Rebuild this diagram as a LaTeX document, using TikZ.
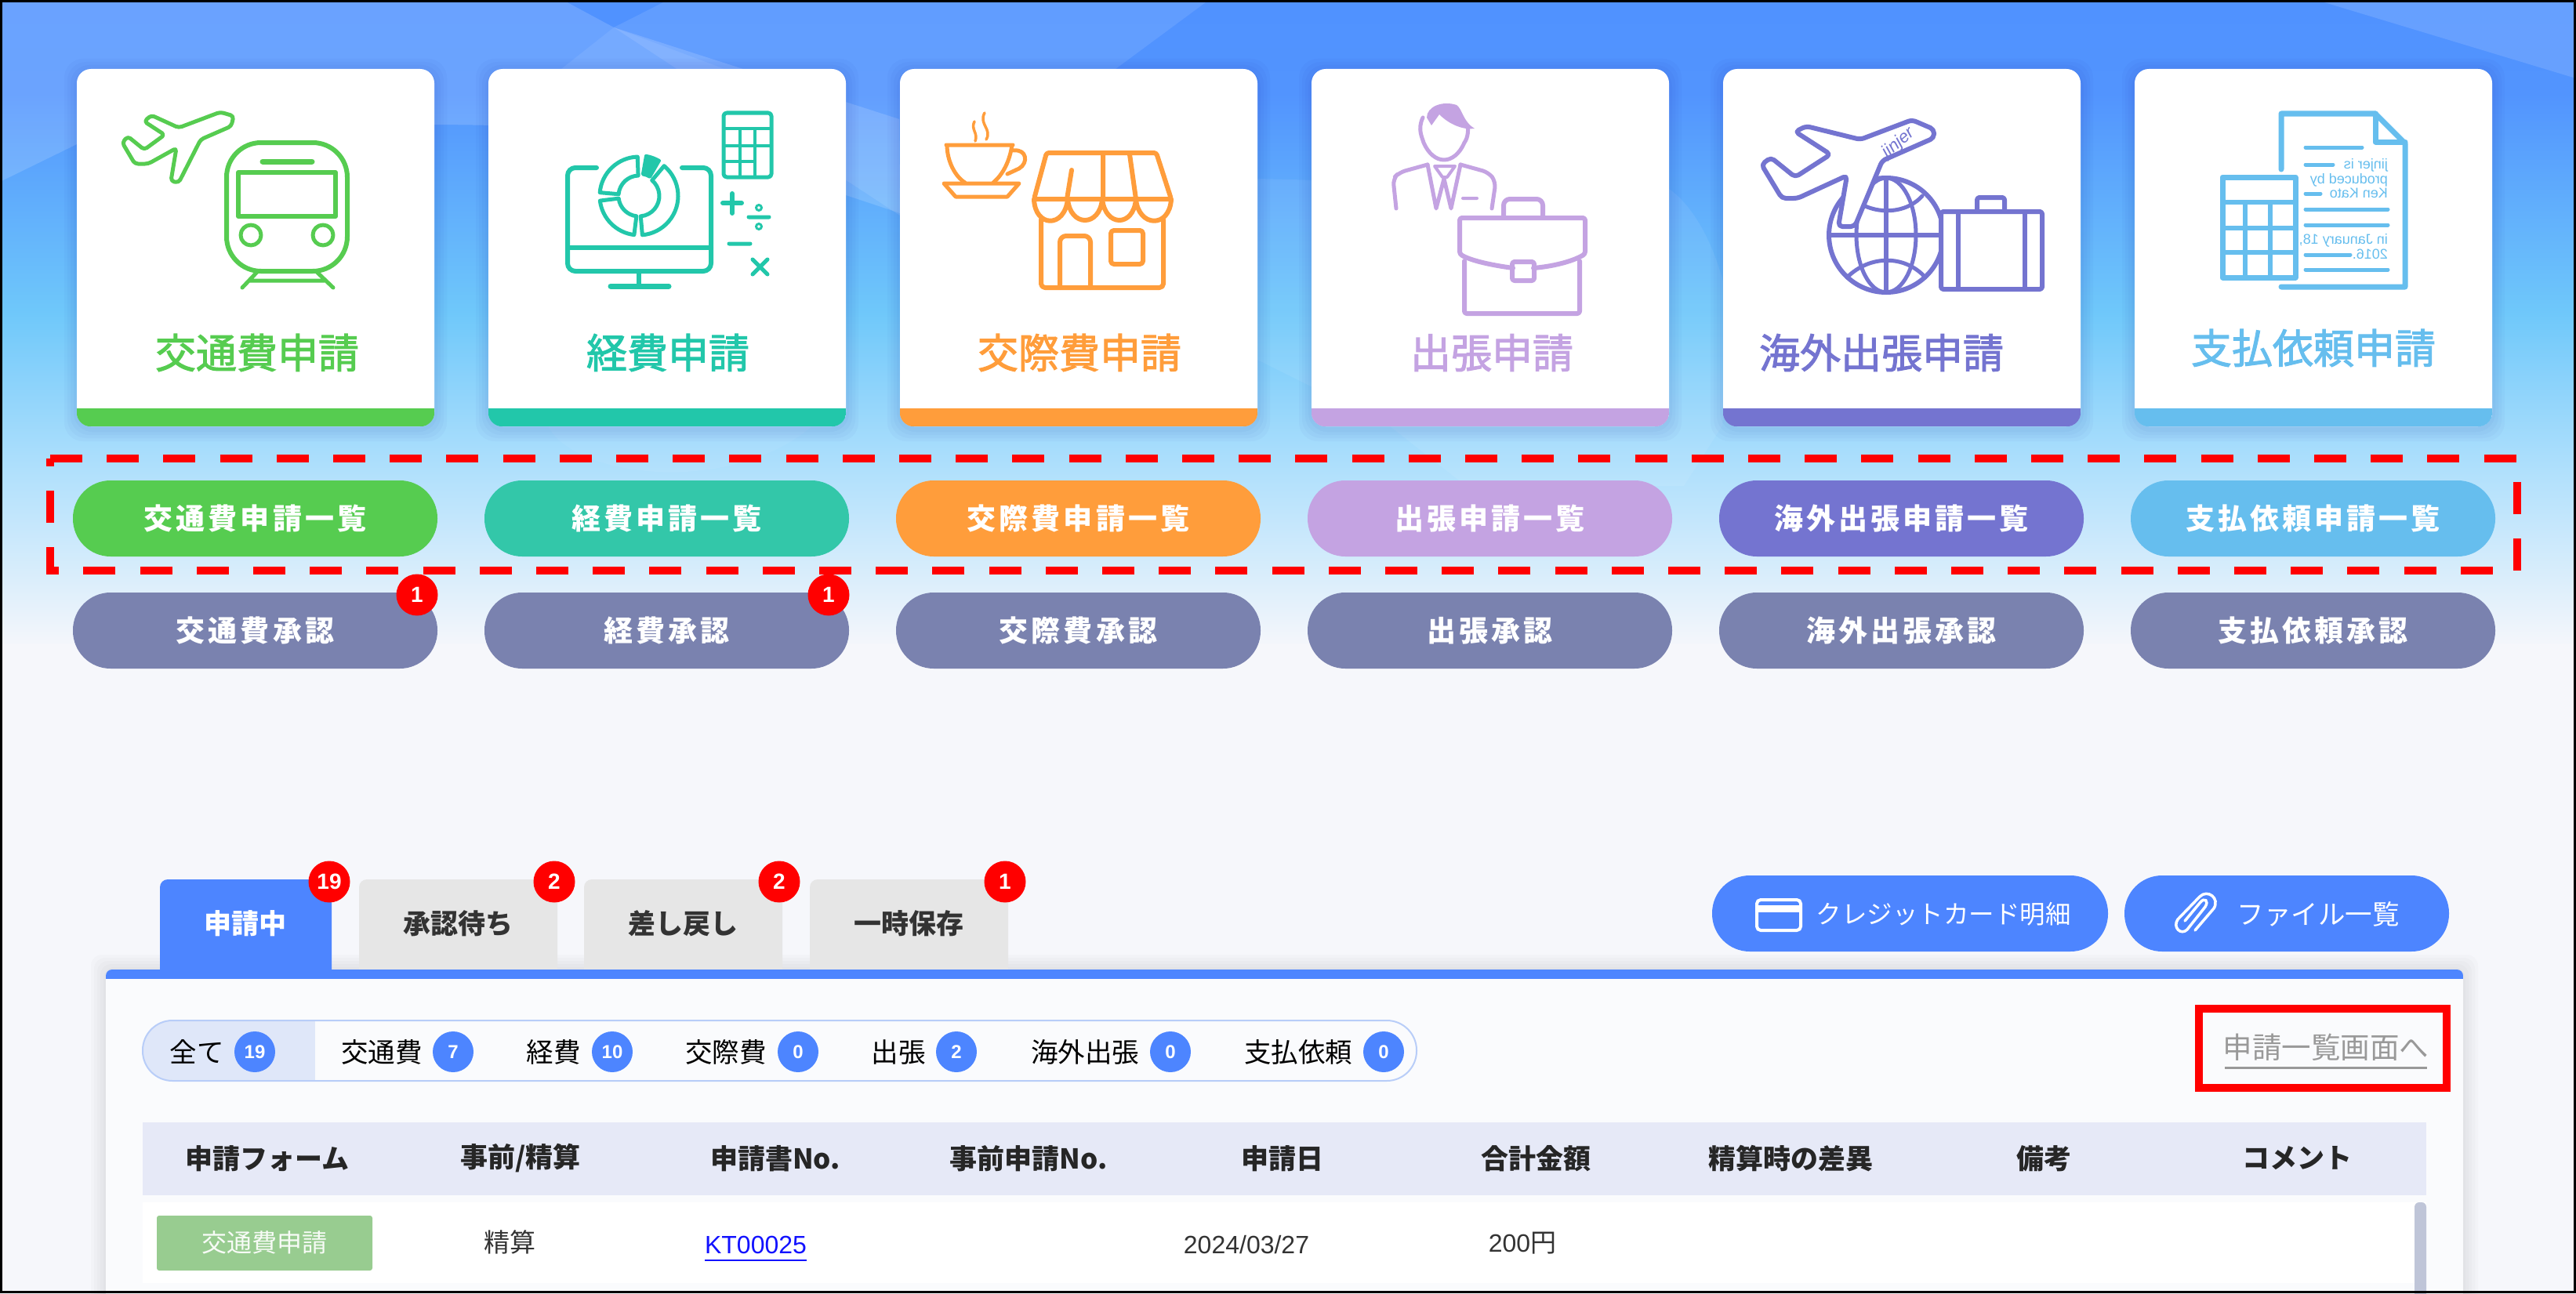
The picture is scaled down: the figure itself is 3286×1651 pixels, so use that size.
\documentclass[tikz,border=0pt]{standalone}
\usepackage{fontspec}
\setmainfont{Noto Sans CJK JP}
\newfontfamily\jpwide[LetterSpace=11]{Noto Sans CJK JP}
\newfontfamily\jpmed[FakeBold=2]{Noto Sans CJK JP}
\newfontfamily\arialfont{Liberation Sans}
\newcommand{\pxsize}[1]{\fontsize{#1}{#1}\selectfont}

\definecolor{trafficclr}{HTML}{56CC50}
\definecolor{expenseclr}{HTML}{22C7AA}
\definecolor{expensepill}{HTML}{33C7A9}
\definecolor{socialclr}{HTML}{FF9D3B}
\definecolor{tripclr}{HTML}{C4A3E2}
\definecolor{abroadclr}{HTML}{7474D0}
\definecolor{payclr}{HTML}{66BEEE}
\definecolor{approveclr}{HTML}{7A82AF}
\definecolor{btnblue}{HTML}{4D85FF}
\definecolor{pagebg}{HTML}{F6F7FB}
\definecolor{panelbg}{HTML}{FAFBFD}
\definecolor{headbg}{HTML}{E6E9F7}
\definecolor{tabgrey}{HTML}{E6E6E6}
\definecolor{chipbg}{HTML}{DFE7F9}
\definecolor{chipline}{HTML}{B8CDF8}
\definecolor{rowgreen}{HTML}{98CC90}
\definecolor{scrollclr}{HTML}{BFC5D8}

\tikzset{
  appcard/.style={fill=white, rounded corners=18pt, minimum width=456pt, minimum height=456pt, inner sep=0pt},
  apptitle/.style={font=\jpmed\pxsize{52}, inner sep=0pt},
  pillbtn/.style={rounded corners=48pt, minimum width=465pt, minimum height=97pt, inner sep=0pt, text=white, font=\jpwide\bfseries\pxsize{37}},
  badge/.style={circle, fill=red, text=white, minimum size=53pt, inner sep=0pt, font=\arialfont\bfseries\pxsize{28}},
  tabbox/.style={font=\bfseries\pxsize{35}, inner sep=0pt},
  chiptext/.style={font=\pxsize{34.5}, inner sep=0pt},
  chipcount/.style={circle, fill=btnblue, text=white, minimum size=52pt, inner sep=0pt, font=\arialfont\bfseries\pxsize{24}},
  headtext/.style={font=\bfseries\pxsize{35}, text=black!85, inner sep=0pt},
  rowtext/.style={font=\pxsize{33}, text=black!80, inner sep=0pt},
  icon/.style={line width=6pt, line cap=round, line join=round},
  redmark/.style={draw=red, line width=10pt},
  mirrortext/.style={xscale=-1, transform shape, anchor=west, inner sep=0pt, text height=12pt, text depth=2pt, font=\arialfont\pxsize{18}, text=payclr},
}

\newcommand{\ringpart}[6]{%
  \draw[icon, expenseclr, line width=5pt] ([shift={(#1,#2)}]#3:#5) arc (#3:#4:#5) -- ([shift={(#1,#2)}]#4:#6) arc (#4:#3:#6) -- cycle;}

\begin{document}
\begin{tikzpicture}[x=1pt, y=-1pt]
  \useasboundingbox (0,0) rectangle (3286,1651);

  \fill[pagebg] (0,0) rectangle (3286,1651);
  \foreach \ya/\yb/\ca/\cb in {0/120/5092FF/5294FE, 120/400/5294FE/6FC8FA, 400/600/6FC8FA/B0E0FC, 600/820/B0E0FC/F4F6FB} {
    \definecolor{shtop}{HTML}{\ca}
    \definecolor{shbot}{HTML}{\cb}
    \shade[top color=shtop, bottom color=shbot] (0,\ya) rectangle (3286,\yb+1);
  }
  \fill[white, opacity=.15] (0,0) -- (718,0) -- (783,35) -- (1147,152) -- (1148,272) -- (1079,249) .. controls (900,170) and (750,160) .. (553,159) .. controls (400,160) and (200,170) .. (98,184) -- (0,232) -- cycle;
  \fill[white, opacity=.10] (852,0) -- (1542,0) -- (1423,88) -- (1148,275) -- (783,35) -- cycle;
  \fill[white, opacity=.08] (783,35) -- (924,88) -- (716,88) -- cycle;
  \fill[white, opacity=.13] (2955,0) -- (3286,0) -- (3286,100) -- cycle;
  \fill[white, opacity=.07] (1604,228) -- (2129,241) .. controls (2170,270) and (2200,340) .. (2210,420) -- (2197,543) -- (2148,620) -- (1870,620) -- (1772,543) -- (1600,457) -- cycle;
  \fill[white, opacity=.05] (700,545) .. controls (740,620) and (1000,640) .. (1079,490) -- (700,490) -- cycle;

  \foreach \n/\clr/\pill/\ttl/\tx/\ty/\lst/\apr in {
    0/trafficclr/trafficclr/交通費申請/328/450/交通費申請一覧/交通費承認,
    1/expenseclr/expensepill/経費申請/852/450/経費申請一覧/経費承認,
    2/socialclr/socialclr/交際費申請/1377/450/交際費申請一覧/交際費承認,
    3/tripclr/tripclr/出張申請/1903/450/出張申請一覧/出張承認,
    4/abroadclr/abroadclr/海外出張申請/2400/450/海外出張申請一覧/海外出張承認,
    5/payclr/payclr/支払依頼申請/2951/444/支払依頼申請一覧/支払依頼承認} {
    \foreach \g in {4,8,12,16}
      \fill[black!50!blue, opacity=.025, rounded corners=24pt] ({98+525*\n-\g},{88-\g+3}) rectangle ({554+525*\n+\g},{544+\g+3});
    \node[appcard] (card\n) at ({326+525*\n},316) {};
    \begin{scope}
      \clip[rounded corners=18pt] (card\n.south west) rectangle (card\n.north east);
      \fill[\clr] ({98+525*\n},521) rectangle ({554+525*\n},544);
    \end{scope}
    \node[apptitle, text=\clr] (title\n) at (\tx,\ty) {\ttl};
    \node[pillbtn, fill=\pill] (list\n) at ({325.5+525*\n},661.5) {\lst};
    \node[pillbtn, fill=approveclr] (appr\n) at ({325.5+525*\n},804.5) {\apr};
  }
  \node[badge] (apprbadge0) at (532,759) {1};
  \node[badge] (apprbadge1) at (1057,759) {1};

  \draw[redmark, dash pattern=on 41pt off 31.2pt] (64,585) -- (3211,585) -- (3211,728) -- (64,728) -- cycle;

  % train
  \draw[icon, trafficclr, rounded corners=44pt] (289,346) rectangle (443,182);
  \draw[icon, trafficclr, line width=7pt] (335,206) -- (398,206);
  \draw[icon, trafficclr] (304,220) rectangle (428,276);
  \draw[icon, trafficclr, line width=5pt] (320,300) circle (13) (412,300) circle (13);
  \draw[icon, trafficclr, line width=5pt] (329,346) -- (309,367) (403,346) -- (425,367) (319,358) -- (414,358);
  \draw[icon, trafficclr, line width=5pt, rounded corners=4pt] (281,143) -- (228,163) -- (193,147) -- (184,155) -- (210,172) -- (184,191) -- (163,174) -- (156,182) -- (172,209) -- (189,209) -- (225,189) -- (218,231) -- (228,233) -- (256,178) -- (295,161) -- (298,148) -- cycle;

  % monitor
  \draw[icon, expenseclr, line width=6pt, rounded corners=10pt] (761,214) -- (724,214) -- (724,346) -- (907,346) -- (907,214) -- (870,214);
  \draw[icon, expenseclr] (724,316) -- (907,316) (815,346) -- (815,364);
  \draw[icon, expenseclr, line width=7pt] (779,365) -- (853,365);
  \ringpart{815}{250}{185}{268}{50}{26}
  \ringpart{815}{250}{310}{445}{50}{26}
  \ringpart{815}{250}{97}{173}{50}{26}
  \draw[icon, expenseclr, fill=expenseclr, line width=4pt] ([shift={(815,250)}]280:52) arc (280:300:52) -- ([shift={(815,250)}]300:28) arc (300:280:28) -- cycle;
  \draw[icon, expenseclr, line width=5pt, rounded corners=4pt] (923,144) rectangle (984,226);
  \draw[icon, expenseclr, line width=4pt] (923,164) -- (984,164) (923,186) -- (984,186) (923,206) -- (963,206) (944,164) -- (944,226) (963,164) -- (963,226);
  \draw[icon, expenseclr] (922,259) -- (946,259) (934,247) -- (934,272);
  \draw[icon, expenseclr, line width=5pt] (955,277) -- (981,277) (930,311) -- (957,311) (960,331) -- (979,350) (979,331) -- (960,350);
  \draw[icon, expenseclr, line width=3pt] (968,265) circle (3.5) (968,289) circle (3.5);

  % coffee and shop
  \draw[icon, socialclr, line width=5pt] (1207,185) -- (1292,185) (1208,185) .. controls (1208,205) and (1218,225) .. (1231,233) (1291,185) .. controls (1288,205) and (1280,222) .. (1267,233);
  \draw[icon, socialclr, line width=5pt] (1293,192) .. controls (1310,190) and (1312,208) .. (1300,215) -- (1285,222);
  \draw[icon, socialclr, line width=5pt] (1204,234) -- (1300,234) -- (1285,251) -- (1219,251) -- cycle;
  \draw[icon, socialclr, line width=3.5pt] (1244,180) .. controls (1248,170) and (1238,165) .. (1243,155) (1258,178) .. controls (1266,165) and (1248,158) .. (1256,144);
  \draw[icon, socialclr, rounded corners=3pt] (1319,254) -- (1335,195) -- (1475,195) -- (1494,254) -- cycle;
  \draw[icon, socialclr] (1367,217) -- (1361,254) (1407,197) -- (1407,254) (1441,197) -- (1449,254);
  \draw[icon, socialclr] (1319,254) .. controls (1320,290) and (1358,292) .. (1362,254) .. controls (1365,290) and (1403,290) .. (1406,254) .. controls (1410,290) and (1446,290) .. (1449,254) .. controls (1452,290) and (1492,292) .. (1494,254);
  \draw[icon, socialclr, rounded corners=5pt] (1328,280) -- (1328,367) -- (1484,367) -- (1484,280);
  \draw[icon, socialclr, rounded corners=8pt] (1352,367) -- (1352,301) -- (1391,301) -- (1391,367);
  \draw[icon, socialclr, rounded corners=4pt] (1417,294) rectangle (1458,337);

  % businessman
  \fill[tripclr] (1820,150) .. controls (1820,136) and (1840,128) .. (1858,134) .. controls (1866,140) and (1866,155) .. (1881,164) .. controls (1868,166) and (1850,160) .. (1836,146) -- (1826,160) -- cycle;
  \draw[icon, tripclr, line width=5pt] (1815,150) .. controls (1808,165) and (1814,175) .. (1816,182) .. controls (1822,196) and (1832,204) .. (1842,204) .. controls (1852,204) and (1862,196) .. (1868,182) .. controls (1873,175) and (1873,165) .. (1872,160);
  \draw[icon, tripclr, line width=5pt, rounded corners=8pt] (1781,266) -- (1777,228) -- (1785,220) -- (1821,210);
  \draw[icon, tripclr, line width=5pt] (1821,210) -- (1832,266) -- (1842,228) -- (1851,266) -- (1863,210);
  \draw[icon, tripclr, line width=5pt, rounded corners=8pt] (1863,210) -- (1899,220) -- (1908,232) -- (1903,266);
  \draw[icon, tripclr, line width=4pt] (1830,212) -- (1856,212) -- (1846,226) -- (1840,226) -- cycle (1866,253) -- (1884,253);
  \draw[icon, tripclr, rounded corners=8pt] (1918,276) -- (1918,254) -- (1968,254) -- (1968,276);
  \draw[icon, tripclr, rounded corners=3pt] (1930,342) .. controls (1900,338) and (1875,332) .. (1862,324) -- (1862,278) -- (2022,278) -- (2022,324) .. controls (2005,334) and (1980,340) .. (1956,342);
  \draw[icon, tripclr, rounded corners=3pt] (1868,333) -- (1868,400) -- (2015,400) -- (2015,333);
  \draw[icon, tripclr, rounded corners=3pt] (1929,334) rectangle (1957,358);

  % globe and plane
  \draw[icon, abroadclr] (2406,300) circle (73);
  \draw[icon, abroadclr, line width=5pt] (2406,300) ellipse (38 and 73);
  \draw[icon, abroadclr] (2406,227) -- (2406,373) (2333,300) -- (2479,300);
  \draw[icon, abroadclr, line width=5pt] (2360,250) .. controls (2385,275) and (2430,275) .. (2452,250) (2356,354) .. controls (2385,325) and (2430,325) .. (2456,354);
  \draw[icon, abroadclr, fill=white, rounded corners=3pt] (2476,270) rectangle (2605,369);
  \draw[icon, abroadclr] (2498,270) -- (2498,369) (2583,270) -- (2583,369);
  \draw[icon, abroadclr, rounded corners=3pt] (2522,268) -- (2522,252) -- (2557,252) -- (2557,268);
  \draw[icon, abroadclr, fill=white, rounded corners=5pt] (2467,165) -- (2439,153) -- (2373,178) -- (2304,161) -- (2290,168) -- (2335,197) -- (2290,226) -- (2259,201) -- (2247,210) -- (2273,253) -- (2293,253) -- (2356,224) -- (2345,289) -- (2366,289) -- (2401,205) -- (2467,176) -- cycle;
  \node[rotate=40, inner sep=0pt, font=\itshape\arialfont\pxsize{22}, text=abroadclr] (planemark) at (2422,182) {jinjer};

  % document and calculator
  \draw[icon, payclr, line width=7pt] (2910,216) -- (2910,145) -- (3030,145) -- (3068,183) -- (3068,366) -- (2910,366);
  \draw[icon, payclr, line width=7pt] (3030,145) -- (3030,181) -- (3068,181);
  \draw[icon, payclr, line width=5pt] (2941,188) -- (3013,188) (2941,210) -- (2976,210) (2941,247) -- (2960,247) (2941,267) -- (3046,267) (2941,287) -- (3046,287) (2941,325) -- (2998,325) (2941,344) -- (3046,344);
  \node[mirrortext] (docline1) at (3046,210) {jinjer is};
  \node[mirrortext] (docline2) at (3046,229) {produced by};
  \node[mirrortext] (docline3) at (3046,247) {Ken Kato};
  \node[mirrortext] (docline4) at (3046,306) {in January 18,};
  \node[mirrortext] (docline5) at (3046,325) {2016.};
  \draw[icon, payclr, line width=7pt, fill=white] (2835,226) rectangle (2928,354);
  \draw[icon, payclr, line width=6pt] (2835,258) -- (2928,258) (2835,291) -- (2928,291) (2835,322) -- (2928,322) (2864,258) -- (2864,354) (2896,258) -- (2896,354);

  % lower part
  \foreach \g in {3,7,11,15,19}
    \fill[black, opacity=.014, rounded corners=14pt] (135-\g,1237-\g) rectangle (3142+\g,1700);
  \fill[tabgrey, rounded corners=10pt] (458,1122) rectangle (711,1260);
  \fill[tabgrey, rounded corners=10pt] (745,1122) rectangle (998,1260);
  \fill[tabgrey, rounded corners=10pt] (1033,1122) rectangle (1286,1260);
  \fill[btnblue, rounded corners=10pt] (204,1122) rectangle (423,1260);
  \fill[panelbg] (135,1245) rectangle (3142,1660);
  \begin{scope}
    \clip[rounded corners=8pt] (135,1237) rectangle (3142,1300);
    \fill[btnblue] (135,1237) rectangle (3142,1249);
  \end{scope}
  \node[tabbox, text=white] (tabnow) at (313,1178) {申請中};
  \node[tabbox, text=black!80] (tabwait) at (584,1178) {承認待ち};
  \node[tabbox, text=black!80] (tabback) at (871,1178) {差し戻し};
  \node[tabbox, text=black!80] (tabkeep) at (1159,1178) {一時保存};
  \node[badge] (tabbadge0) at (420,1125) {19};
  \node[badge] (tabbadge1) at (707,1125) {2};
  \node[badge] (tabbadge2) at (994,1125) {2};
  \node[badge] (tabbadge3) at (1282,1125) {1};

  \node[fill=btnblue, rounded corners=48pt, minimum width=505pt, minimum height=97pt] (cardbtn) at (2436.5,1165.5) {};
  \node[fill=btnblue, rounded corners=48pt, minimum width=414pt, minimum height=97pt] (filebtn) at (2917,1165.5) {};
  \node[font=\pxsize{32.5}, text=white, inner sep=0pt] (cardtext) at (2479,1166) {クレジットカード明細};
  \node[font=\pxsize{34.5}, text=white, inner sep=0pt] (filetext) at (2957,1166) {ファイル一覧};
  \draw[white, line width=4pt, rounded corners=5pt] (2241,1148) rectangle (2297,1187);
  \fill[white] (2241,1155) rectangle (2297,1164);
  \draw[white, line width=3.5pt, line cap=round] (2800,1187) -- (2824,1159) .. controls (2832,1146) and (2816,1134) .. (2806,1144) -- (2778,1173) .. controls (2771,1183) and (2782,1194) .. (2790,1186) -- (2813,1157) .. controls (2818,1149) and (2812,1145) .. (2807,1151) -- (2787,1175);

  \fill[chipbg, rounded corners=38pt] (182,1302) rectangle (500,1379);
  \fill[panelbg] (402,1303) rectangle (520,1378);
  \draw[chipline, line width=2pt, rounded corners=38pt] (182,1302) rectangle (1807,1379);
  \foreach \nm/\txt/\tc/\bc/\cnt in {all/全て/251/325/19, traffic/交通費/487/578/7, expense/経費/706/781/10, social/交際費/926/1018/0, trip/出張/1146/1220/2, abroad/海外出張/1384/1493/0, pay/支払依頼/1656/1765/0} {
    \node[chiptext] (chip\nm) at (\tc,1342) {\txt};
    \node[chipcount] (count\nm) at (\bc,1342) {\cnt};
  }

  \node[font=\pxsize{37.5}, text=black!40, inner sep=0pt] (gotolist) at (2967,1336) {申請一覧画面へ};
  \draw[black!40, line width=3pt] (2838,1362) -- (3096,1362);
  \draw[redmark] (2805,1287) rectangle (3121,1388);

  \fill[headbg] (182,1432) rectangle (3095,1525);
  \foreach \nm/\txt/\hx in {form/申請フォーム/341, kind/{事前/精算}/664, num/申請書No./989, prenum/事前申請No./1312, date/申請日/1636, sum/合計金額/1959, diff/精算時の差異/2284, note/備考/2607, comment/コメント/2930}
    \node[headtext] (head\nm) at (\hx,1478) {\txt};

  \fill[white] (182,1534) rectangle (3095,1637);
  \fill[rowgreen, rounded corners=3pt] (200,1551) rectangle (475,1621);
  \node[font=\pxsize{32}, text=white!92!rowgreen, inner sep=0pt] (rowform) at (337,1585) {交通費申請};
  \node[rowtext] (rowkind) at (650,1585) {精算};
  \node[rowtext, font=\arialfont\pxsize{32}, text=blue!93!white, inner sep=3pt] (rowlink) at (964,1588) {KT00025};
  \draw[blue!93!white, line width=2.5pt] (899,1608) -- (1029,1608);
  \node[rowtext, font=\arialfont\pxsize{32}] (rowdate) at (1590,1588) {2024/03/27};
  \node[rowtext] (rowsum) at (1942,1586) {{\arialfont\pxsize{32}200}円};
  \fill[scrollclr, rounded corners=6pt] (3080,1534) rectangle (3095,1660);

  \draw[black, line width=3pt] (1.5,1.5) rectangle (3284,1648.5);
\end{tikzpicture}
\end{document}
